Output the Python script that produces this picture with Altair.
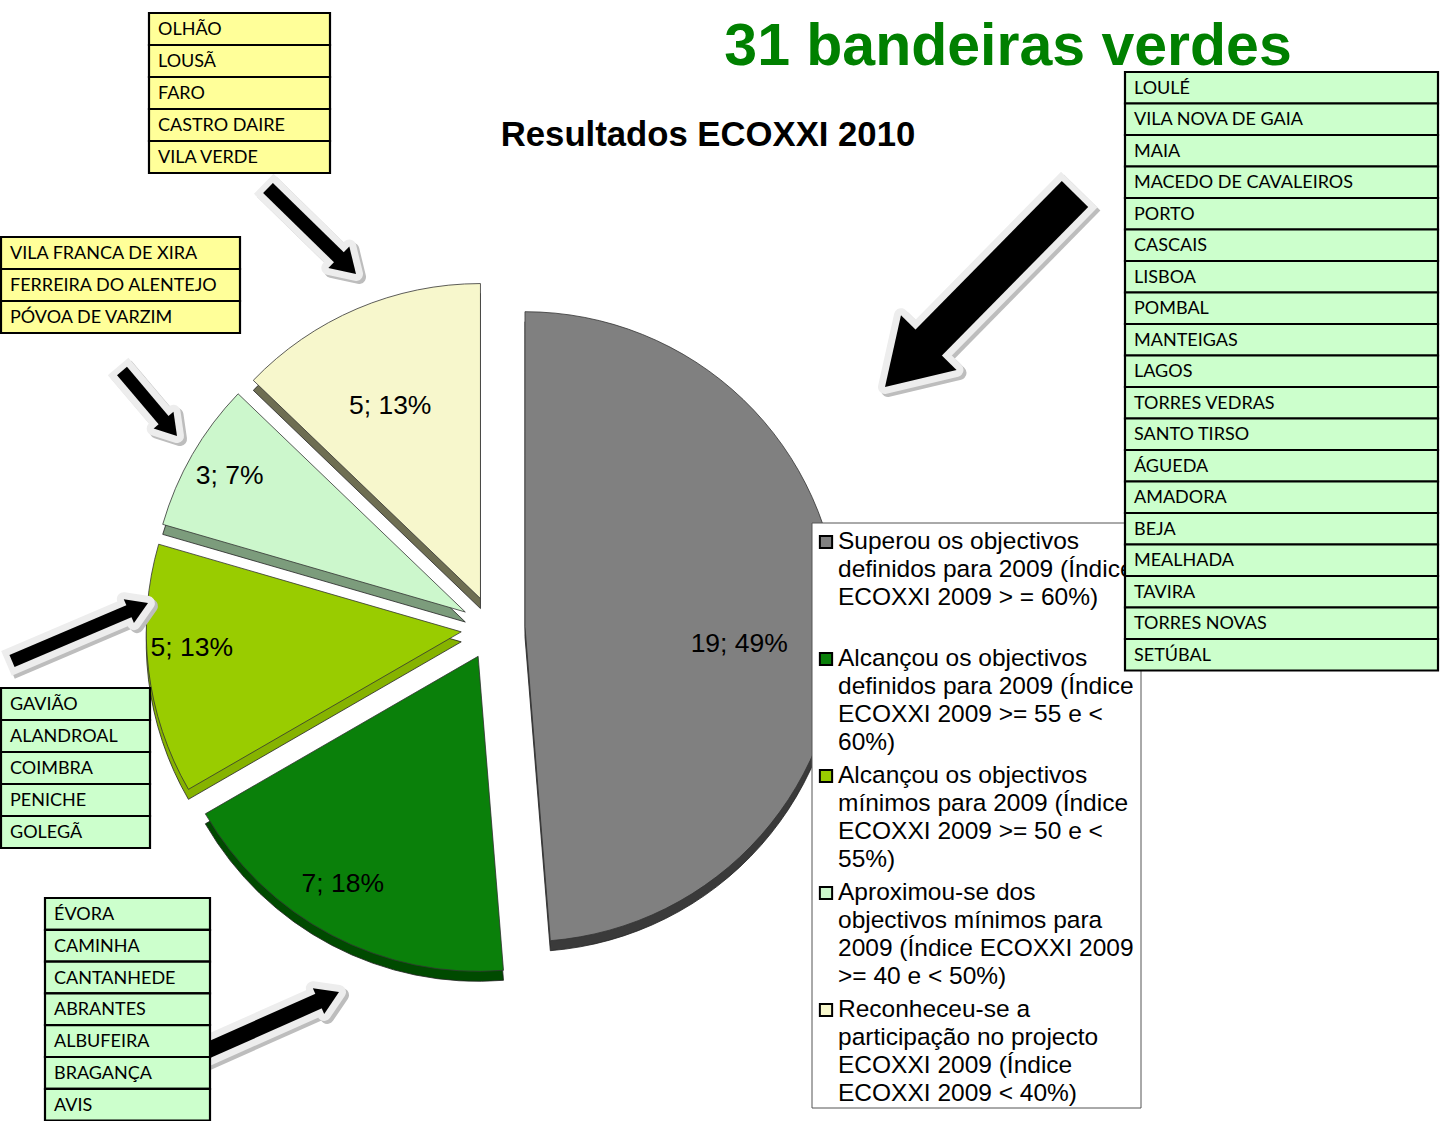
import altair as alt
import pandas as pd
import numpy as np

W, H = 1440, 1121

# ---------------- data ----------------
categories = ["Superou", "Alcançou definidos", "Alcançou mínimos", "Aproximou-se", "Reconheceu-se"]
values = [19, 7, 5, 3, 5]
slice_labels = ["19; 49%", "7; 18%", "5; 13%", "3; 7%", "5; 13%"]

legend_lines = [
    ["Superou os objectivos", "definidos para 2009 (Índice", "ECOXXI 2009 > = 60%)"],
    ["Alcançou os objectivos", "definidos para 2009 (Índice", "ECOXXI 2009 >= 55 e <", "60%)"],
    ["Alcançou os objectivos", "mínimos para 2009 (Índice", "ECOXXI 2009 >= 50 e <", "55%)"],
    ["Aproximou-se dos", "objectivos mínimos para", "2009 (Índice ECOXXI 2009", ">= 40 e < 50%)"],
    ["Reconheceu-se a", "participação no projecto", "ECOXXI 2009 (Índice", "ECOXXI 2009 < 40%)"],
]

names_superou = ["LOULÉ", "VILA NOVA DE GAIA", "MAIA", "MACEDO DE CAVALEIROS", "PORTO", "CASCAIS",
                 "LISBOA", "POMBAL", "MANTEIGAS", "LAGOS", "TORRES VEDRAS", "SANTO TIRSO", "ÁGUEDA",
                 "AMADORA", "BEJA", "MEALHADA", "TAVIRA", "TORRES NOVAS", "SETÚBAL"]
names_definidos = ["ÉVORA", "CAMINHA", "CANTANHEDE", "ABRANTES", "ALBUFEIRA", "BRAGANÇA", "AVIS"]
names_minimos = ["GAVIÃO", "ALANDROAL", "COIMBRA", "PENICHE", "GOLEGÃ"]
names_aproximou = ["VILA FRANCA DE XIRA", "FERREIRA DO ALENTEJO", "PÓVOA DE VARZIM"]
names_reconheceu = ["OLHÃO", "LOUSÃ", "FARO", "CASTRO DAIRE", "VILA VERDE"]

title_main = "31 bandeiras verdes"
title_sub = "Resultados ECOXXI 2010"

# ---------------- styles / layout ----------------
top_colors = ["#808080", "#0A800A", "#99CC00", "#CCF7CC", "#F7F7CC"]
side_colors = ["#3A3A3A", "#004A00", "#86B300", "#7C9C7C", "#6E6E52"]
CX, CY, R, EXPLODE, DEPTH = 493, 628, 315, 32, 10
label_radius = [215, 265, 270, 272, 213]
label_turn_deg = [7, 3, 3.5, 0, -2]

# table layout per category: x0, x1, top, row height, fill
table_layout = [
    (1125, 1438, 72, 31.5, "#CCFFCC"),
    (45, 210, 898, 31.8, "#CCFFCC"),
    (1, 150, 688, 32, "#CCFFCC"),
    (1, 240, 237, 32, "#FFFF99"),
    (149, 330, 13, 32, "#FFFF99"),
]
table_names = [names_superou, names_definidos, names_minimos, names_aproximou, names_reconheceu]

LEG_X0, LEG_X1, LEG_Y0, LEG_Y1 = 812, 1141, 523, 1108
LEG_FIRST, LEG_STEP, LEG_LINE = 542, 117, 28

# arrows: tail x, tail y, tip x, tip y, shaft width, head width
arrow_layout = [
    (268, 188, 356, 274, 14, 30),
    (1075, 194, 885, 387, 37, 78),
    (122, 371, 177, 436, 13, 26),
    (12, 661, 148, 603, 13, 26),
    (204, 1052, 339, 992, 16, 28),
]

SANS = "Liberation Sans"
TFONT = "Lato"

X = lambda f: alt.X(f, scale=None, axis=None)
Y = lambda f: alt.Y(f, scale=None, axis=None)

# ---------------- pie ----------------
pie_df = pd.DataFrame({"cat": categories, "value": values, "label": slice_labels,
                       "order": list(range(len(values))), "lr": label_radius,
                       "lt": label_turn_deg})
pie_base = (
    alt.Chart(pie_df)
    .transform_window(cum="sum(value)", sort=[alt.SortField("order")], frame=[None, 0])
    .transform_joinaggregate(total="sum(value)")
    .transform_calculate(t0="2*PI*(datum.cum-datum.value)/datum.total")
    .transform_calculate(t1="2*PI*datum.cum/datum.total")
    .transform_calculate(tm="(datum.t0+datum.t1)/2")
    .transform_calculate(cx=f"{CX}+{EXPLODE}*sin(datum.tm)")
    .transform_calculate(cy=f"{CY}-{EXPLODE}*cos(datum.tm)")
    .transform_calculate(cyd=f"datum.cy+{DEPTH}")
    .transform_calculate(la="datum.tm+datum.lt*PI/180")
    .transform_calculate(lx="datum.cx+datum.lr*sin(datum.la)")
    .transform_calculate(ly="datum.cy-datum.lr*cos(datum.la)")
)

pie_side = pie_base.mark_arc(radius=R, stroke="#222222", strokeWidth=0.8).encode(
    x=X("cx:Q"), y=Y("cyd:Q"),
    theta=alt.Theta("t0:Q", scale=None, stack=None), theta2="t1:Q",
    fill=alt.Fill("cat:N", scale=alt.Scale(domain=categories, range=side_colors), legend=None),
)
pie_top = pie_base.mark_arc(radius=R, stroke="#333333", strokeWidth=0.8).encode(
    x=X("cx:Q"), y=Y("cy:Q"),
    theta=alt.Theta("t0:Q", scale=None, stack=None), theta2="t1:Q",
    fill=alt.Fill("cat:N", scale=alt.Scale(domain=categories, range=top_colors), legend=None),
)
pie_text = pie_base.mark_text(font=SANS, fontSize=26.5, color="black", align="center",
                              baseline="middle").encode(x=X("lx:Q"), y=Y("ly:Q"), text="label:N")

# ---------------- legend ----------------
leg_box = alt.Chart(pd.DataFrame({"a": [0]})).mark_rect(
    fill="white", stroke="#555555", strokeWidth=1).encode(
    x=alt.value(LEG_X0), x2=alt.value(LEG_X1), y=alt.value(LEG_Y0), y2=alt.value(LEG_Y1))

leg_sym_df = pd.DataFrame({"cat": categories, "i": list(range(len(categories)))})
leg_sym = alt.Chart(leg_sym_df).transform_calculate(
    yc=f"{LEG_FIRST}+datum.i*{LEG_STEP}").mark_square(
    size=150, stroke="black", strokeWidth=2, opacity=1).encode(
    x=alt.value(826), y=Y("yc:Q"),
    fill=alt.Fill("cat:N", scale=alt.Scale(domain=categories, range=top_colors), legend=None))

rows = []
for i, lines in enumerate(legend_lines):
    for j, t in enumerate(lines):
        rows.append({"t": t, "i": i, "j": j})
leg_txt = alt.Chart(pd.DataFrame(rows)).transform_calculate(
    yc=f"{LEG_FIRST}+datum.i*{LEG_STEP}+datum.j*{LEG_LINE}").mark_text(
    font=SANS, fontSize=24.5, align="left", baseline="middle", color="black").encode(
    x=alt.value(838), y=Y("yc:Q"), text="t:N")

# ---------------- tables ----------------
trows = []
for k, names in enumerate(table_names):
    x0, x1, top, rh, fill = table_layout[k]
    for r, nm in enumerate(names):
        trows.append({"name": nm, "x0": x0, "x1": x1, "y0": top + r * rh, "y1": top + (r + 1) * rh,
                      "tx": x0 + 9, "ty": top + (r + 0.5) * rh + 1, "fill": fill})
tdf = pd.DataFrame(trows)
tab_rect = alt.Chart(tdf).mark_rect(stroke="black", strokeWidth=2.2).encode(
    x=X("x0:Q"), x2="x1:Q", y=Y("y0:Q"), y2="y1:Q", fill=alt.Fill("fill:N", scale=None))
tab_text = alt.Chart(tdf).mark_text(font=TFONT, fontSize=18, align="left", baseline="middle",
                                    color="#000000").encode(x=X("tx:Q"), y=Y("ty:Q"), text="name:N")

# ---------------- arrows ----------------
arows = []
for (tx, ty, hx, hy, sw, hw) in arrow_layout:
    dx, dy = hx - tx, hy - ty
    L = float(np.hypot(dx, dy))
    ux, uy = dx / L, dy / L
    ang = float(np.degrees(np.arctan2(dx, -dy)) % 360)
    arows.append({
        "sx": tx, "sy": ty, "ex": hx - ux * 0.75 * hw, "ey": hy - uy * 0.75 * hw,
        "osx": tx - ux * 6, "osy": ty - uy * 6,
        "hx": hx - ux * 0.4 * hw, "hy": hy - uy * 0.4 * hw,
        "ang": ang, "sw": sw, "hs": hw * hw,
    })
adf = pd.DataFrame(arows)
HEAD = "M0,-0.8L1,0.8L-1,0.8Z"


def arrow_layers(color, off, grow):
    a = alt.Chart(adf).transform_calculate(
        x1=f"datum.osx+{off}", y1=f"datum.osy+{off}", x2=f"datum.ex+{off}", y2=f"datum.ey+{off}",
        w=f"datum.sw+{grow}", px=f"datum.hx+{off}", py=f"datum.hy+{off}")
    shaft = a.mark_rule(color=color, strokeCap="butt").encode(
        x=X("x1:Q"), y=Y("y1:Q"), x2="x2:Q", y2="y2:Q",
        strokeWidth=alt.StrokeWidth("w:Q", scale=None))
    head = a.mark_point(shape=HEAD, filled=True, fill=color, stroke=color,
                        strokeWidth=grow, strokeJoin="round", opacity=1).encode(
        x=X("px:Q"), y=Y("py:Q"), angle=alt.Angle("ang:Q", scale=None),
        size=alt.Size("hs:Q", scale=None))
    return [shaft, head]


def arrow_black():
    a = alt.Chart(adf)
    shaft = a.mark_rule(color="black", strokeCap="butt").encode(
        x=X("sx:Q"), y=Y("sy:Q"), x2="ex:Q", y2="ey:Q",
        strokeWidth=alt.StrokeWidth("sw:Q", scale=None))
    head = a.mark_point(shape=HEAD, filled=True, fill="black", opacity=1, strokeWidth=0).encode(
        x=X("hx:Q"), y=Y("hy:Q"), angle=alt.Angle("ang:Q", scale=None),
        size=alt.Size("hs:Q", scale=None))
    return [shaft, head]


arrow_all = arrow_layers("#BDBDBD", 3, 14) + arrow_layers("#EDEDED", 0, 14) + arrow_black()

# ---------------- titles ----------------
t_main = alt.Chart(pd.DataFrame({"t": [title_main]})).mark_text(
    font=SANS, fontSize=59, fontWeight="bold", color="#008000", align="center",
    baseline="alphabetic").encode(x=alt.value(1008), y=alt.value(65), text="t:N")
t_sub = alt.Chart(pd.DataFrame({"t": [title_sub]})).mark_text(
    font=SANS, fontSize=34.7, fontWeight="bold", color="black", align="center",
    baseline="alphabetic").encode(x=alt.value(708), y=alt.value(146), text="t:N")

chart = alt.layer(
    pie_side, pie_top, pie_text,
    *arrow_all,
    leg_box, leg_sym, leg_txt,
    tab_rect, tab_text,
    t_main, t_sub,
).resolve_scale(fill="independent").properties(
    width=W, height=H, padding=0, autosize=alt.AutoSizeParams(type="none"),
    background="white",
).configure_view(stroke=None)

chart.save("out.html", embed_options={"renderer": "svg", "actions": False})
